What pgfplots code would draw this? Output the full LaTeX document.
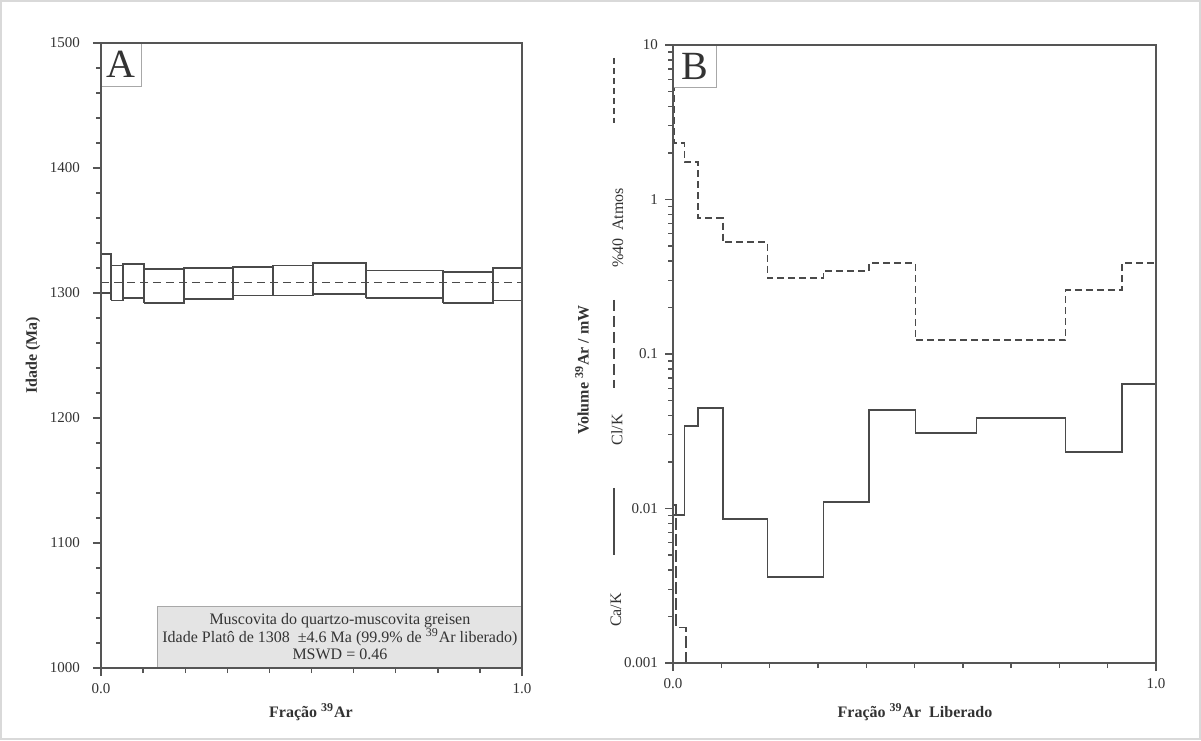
\documentclass[border=0pt]{standalone}
\usepackage{fontspec}
\setmainfont{Liberation Serif}
\usepackage{pgfplots}
\pgfplotsset{compat=1.18}
\definecolor{ax}{HTML}{555555}
\definecolor{ln}{HTML}{4a4a4a}
\definecolor{tx}{HTML}{333333}
\definecolor{boxfill}{HTML}{E4E4E4}
\definecolor{boxdraw}{HTML}{A8A8A8}

\pgfplotsset{
  common/.style={
    scale only axis,
    anchor=south west,
    axis on top,
    xmin=0, xmax=1,
    xtick={0,1}, xticklabels={0.0,1.0},
    minor x tick num=9,
    tick align=outside, tick pos=left,
    major tick length=4pt, minor tick length=2.5pt,
    axis line style={ax, line width=1pt},
    major tick style={draw=ax, line width=0.8pt},
    minor tick style={draw=ax, line width=0.7pt},
    tick label style={font=\fontsize{7.5}{9}\selectfont, text=tx},
    /pgf/number format/assume math mode=true,
    /pgf/number format/1000 sep={},
    unbounded coords=jump,
  }
}

\begin{document}
\begin{tikzpicture}[x=1pt,y=1pt]
\useasboundingbox (0,0) rectangle (600.5,370);
\draw[gray!30, line width=0.6pt] (0.5,0.5) rectangle (600,369.5);

% ---------------- Panel A ----------------
\begin{axis}[common,
  at={(50.5pt,36pt)},
  width=210.5pt, height=312.5pt,
  ymin=1000, ymax=1500,
  ytick={1000,1100,...,1500},
  minor y tick num=4,
  yticklabel style={xshift=-3pt},
]
\fill[boxfill] (axis cs:0.135,1000) rectangle (axis cs:1,1049);
\draw[boxdraw, line width=0.6pt] (axis cs:0.135,1000) -- (axis cs:0.135,1049) -- (axis cs:1,1049);
\node[align=center, text=tx, font=\fontsize{8}{8.6}\selectfont] at (axis cs:0.5675,1025)
  {Muscovita do quartzo-muscovita greisen\\
   Idade Platô de 1308 \ ±4.6 Ma (99.9\% de \textsuperscript{39}Ar liberado)\\
   MSWD = 0.46};
\addplot[ln, line width=0.5pt, dash pattern=on 4pt off 2.5pt] coordinates {(0,1308) (1,1308)};
\addplot[ln, line width=0.8pt] coordinates {
 (0.000,1300) (0.024,1300) (0.024,1331) (0.000,1331) (0.000,1300) (0.0,nan)
 (0.024,1294) (0.052,1294) (0.052,1322) (0.024,1322) (0.024,1294) (0.0,nan)
 (0.052,1296) (0.102,1296) (0.102,1323) (0.052,1323) (0.052,1296) (0.0,nan)
 (0.102,1292) (0.197,1292) (0.197,1319) (0.102,1319) (0.102,1292) (0.0,nan)
 (0.197,1295) (0.314,1295) (0.314,1320) (0.197,1320) (0.197,1295) (0.0,nan)
 (0.314,1298) (0.409,1298) (0.409,1321) (0.314,1321) (0.314,1298) (0.0,nan)
 (0.409,1298) (0.504,1298) (0.504,1322) (0.409,1322) (0.409,1298) (0.0,nan)
 (0.504,1299) (0.629,1299) (0.629,1324) (0.504,1324) (0.504,1299) (0.0,nan)
 (0.629,1296) (0.812,1296) (0.812,1318) (0.629,1318) (0.629,1296) (0.0,nan)
 (0.812,1292) (0.931,1292) (0.931,1317) (0.812,1317) (0.812,1292) (0.0,nan)
 (0.931,1294) (1.000,1294) (1.000,1320) (0.931,1320) (0.931,1294)
};
\draw[boxdraw, line width=0.5pt, fill=white] (rel axis cs:0,1) rectangle (rel axis cs:0.097,0.931);
\node[text=tx, font=\fontsize{20}{20}\selectfont] at (rel axis cs:0.0485,0.9655) {A};
\end{axis}

% ---------------- Panel B ----------------
\begin{axis}[common,
  at={(336.5pt,38.5pt)},
  width=241.5pt, height=309pt,
  ymode=log, ymin=0.001, ymax=10,
  ytick={0.001,0.01,0.1,1,10},
  yticklabels={0.001,0.01,0.1,1,10},
]
% %40 Atmos
\addplot[ln, line width=0.8pt, dash pattern=on 3.5pt off 2pt, const plot mark left] coordinates {
 (0.000,7.6) (0.002,2.32) (0.024,1.75) (0.052,0.76) (0.103,0.53) (0.196,0.31)
 (0.312,0.344) (0.406,0.388) (0.502,0.123) (0.813,0.26) (0.930,0.388) (1.000,0.388)
};
% Cl/K
\addplot[ln, line width=0.8pt, const plot mark left] coordinates {
 (0.000,0.0091) (0.024,0.0342) (0.052,0.0447) (0.103,0.00855) (0.196,0.00361)
 (0.312,0.0110) (0.406,0.0434) (0.502,0.0308) (0.628,0.0385) (0.813,0.0232)
 (0.930,0.064) (1.000,0.064)
};
% Ca/K
\addplot[ln, line width=0.8pt, dash pattern=on 6pt off 2pt, const plot mark left] coordinates {
 (0.000,0.0105) (0.006,0.0017) (0.027,0.0001)
};
\draw[boxdraw, line width=0.5pt, fill=white] (rel axis cs:0,1) rectangle (rel axis cs:0.091,0.932);
\node[text=tx, font=\fontsize{20}{20}\selectfont] at (rel axis cs:0.0455,0.966) {B};
\end{axis}

% ---------------- labels ----------------
\node[rotate=90, text=tx, font=\bfseries\fontsize{8}{9}\selectfont] at (16.5,192.25) {Idade (Ma)};
\node[text=tx, font=\bfseries\fontsize{8}{9}\selectfont] at (155.5,14) {Fração \textsuperscript{39}Ar};
\node[text=tx, font=\bfseries\fontsize{8}{9}\selectfont] at (457.5,14) {Fração \textsuperscript{39}Ar \ Liberado};
\node[rotate=90, text=tx, font=\bfseries\fontsize{8}{9}\selectfont] at (291,185) {Volume \textsuperscript{39}Ar / mW};

% legend-like labels at left of panel B
\draw[ln, line width=0.6pt, dash pattern=on 3pt off 2pt] (307,341) -- (307,308.5);
\node[rotate=90, text=tx, font=\fontsize{8}{9}\selectfont] at (309,256) {\%40 \ Atmos};
\draw[ln, line width=0.6pt, dash pattern=on 5.5pt off 2.5pt] (307,220) -- (307,176);
\node[rotate=90, text=tx, font=\fontsize{8}{9}\selectfont] at (308.5,155) {Cl/K};
\draw[ln, line width=0.6pt] (307,126) -- (307,92.5);
\node[rotate=90, text=tx, font=\fontsize{8}{9}\selectfont] at (308,65) {Ca/K};
\end{tikzpicture}
\end{document}
